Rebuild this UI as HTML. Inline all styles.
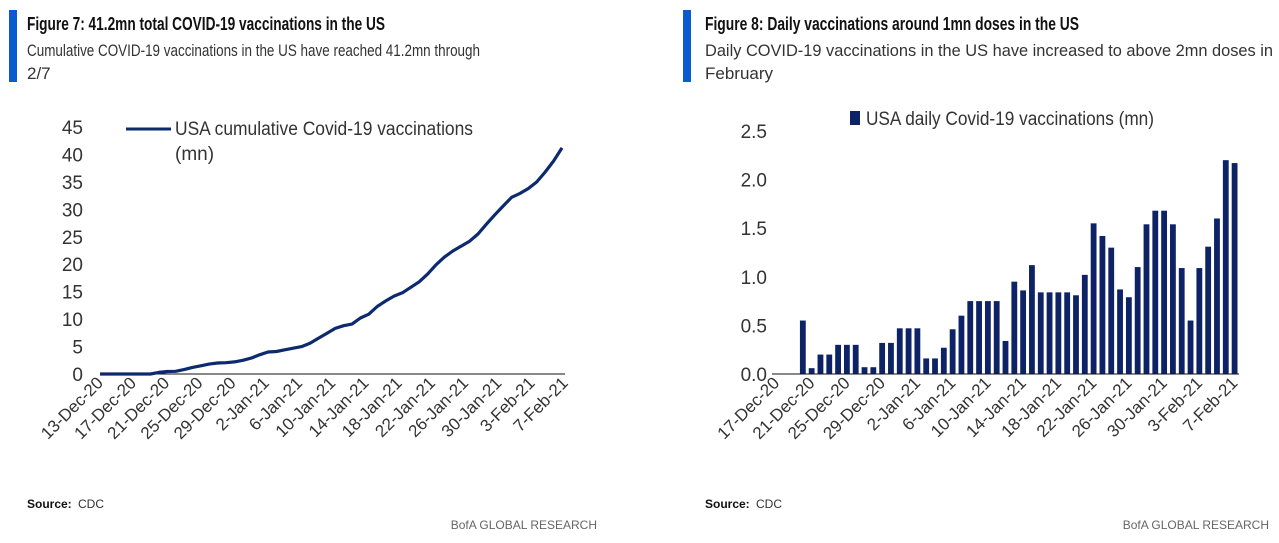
<!DOCTYPE html>
<html><head><meta charset="utf-8"><style>
body{margin:0;background:#fff;}
svg{display:block;font-family:"Liberation Sans Narrow","Liberation Sans",sans-serif;}
</style></head><body>
<svg width="1279" height="543" viewBox="0 0 1279 543">
<g>
<rect x="9" y="10" width="8" height="72" fill="#0a5ad2"/>
<text x="27" y="30" font-size="18" font-weight="bold" fill="#111" textLength="358" lengthAdjust="spacingAndGlyphs">Figure 7: 41.2mn total COVID-19 vaccinations in the US</text>
<text x="27" y="56" font-size="17" fill="#333" textLength="453" lengthAdjust="spacingAndGlyphs">Cumulative COVID-19 vaccinations in the US have reached 41.2mn through</text>
<text x="27" y="79" font-size="17" fill="#333">2/7</text>
<g id="leftChart"></g>
<text x="27" y="508" font-size="12" font-weight="bold" fill="#111">Source:</text>
<text x="78" y="508" font-size="12" fill="#333">CDC</text>
<text x="597" y="529" font-size="12" fill="#666" text-anchor="end">BofA GLOBAL RESEARCH</text>
</g>
<g>
<rect x="683" y="10" width="8" height="72" fill="#0a5ad2"/>
<text x="705" y="30" font-size="18" font-weight="bold" fill="#111" textLength="374" lengthAdjust="spacingAndGlyphs">Figure 8: Daily vaccinations around 1mn doses in the US</text>
<text x="705" y="56" font-size="17" fill="#333" textLength="568" lengthAdjust="spacingAndGlyphs">Daily COVID-19 vaccinations in the US have increased to above 2mn doses in</text>
<text x="705" y="79" font-size="17" fill="#333">February</text>
<g id="rightChart"></g>
<text x="705" y="508" font-size="12" font-weight="bold" fill="#111">Source:</text>
<text x="756" y="508" font-size="12" fill="#333">CDC</text>
<text x="1269" y="529" font-size="12" fill="#666" text-anchor="end">BofA GLOBAL RESEARCH</text>
</g>
</svg>
<script>
const NS="http://www.w3.org/2000/svg";
const cumValues=[0,0,0,0,0,0,0,0.3,0.45,0.5,0.8,1.2,1.5,1.8,2.0,2.05,2.2,2.5,2.9,3.5,4.0,4.1,4.4,4.7,5.0,5.6,6.5,7.4,8.3,8.8,9.1,10.2,10.9,12.3,13.3,14.2,14.8,15.8,16.8,18.2,19.9,21.3,22.4,23.3,24.2,25.5,27.3,29.0,30.6,32.2,32.9,33.8,35.0,36.8,38.8,41.2];
const leftTickLabels=["13-Dec-20","17-Dec-20","21-Dec-20","25-Dec-20","29-Dec-20","2-Jan-21","6-Jan-21","10-Jan-21","14-Jan-21","18-Jan-21","22-Jan-21","26-Jan-21","30-Jan-21","3-Feb-21","7-Feb-21"];
const leftYTicks=[0,5,10,15,20,25,30,35,40,45];
const dailyValues=[0,0,0,0.55,0.06,0.2,0.2,0.3,0.3,0.3,0.07,0.07,0.32,0.32,0.47,0.47,0.47,0.16,0.16,0.27,0.46,0.6,0.75,0.75,0.75,0.75,0.34,0.95,0.86,1.12,0.84,0.84,0.84,0.84,0.81,1.02,1.55,1.42,1.3,0.87,0.79,1.1,1.54,1.68,1.68,1.54,1.09,0.55,1.09,1.31,1.6,2.2,2.17];
const rightTickLabels=["17-Dec-20","21-Dec-20","25-Dec-20","29-Dec-20","2-Jan-21","6-Jan-21","10-Jan-21","14-Jan-21","18-Jan-21","22-Jan-21","26-Jan-21","30-Jan-21","3-Feb-21","7-Feb-21"];
const rightYTicks=["0.0","0.5","1.0","1.5","2.0","2.5"];

function mk(tag,attrs,parent,txt){const e=document.createElementNS(NS,tag);for(const k in attrs)e.setAttribute(k,attrs[k]);if(txt!==undefined)e.textContent=txt;parent.appendChild(e);return e;}

// Left chart
const L=document.getElementById('leftChart');
const lx0=100,lx1=565,ly0=374,ly45=127;
const lxs=d=>lx0+d*(562-lx0)/55;
const lys=v=>ly0-v*(ly0-ly45)/45;
leftYTicks.forEach(v=>{const t=mk('text',{x:83,y:lys(v)+7,'font-size':19,fill:'#333','text-anchor':'end'},L,String(v));

});
const la=mk('line',{x1:lx0,y1:ly0,x2:lx1,y2:ly0,stroke:'#111','stroke-width':1},L);


leftTickLabels.forEach((s,i)=>{const x=lx0+i*4*(lx1-lx0)/56+4,y=ly0+10;
const t=mk('text',{x:x,y:y,'font-size':17,fill:'#333','text-anchor':'end',transform:`rotate(-45 ${x} ${y})`},L,s);

});
const pts=cumValues.map((v,i)=>lxs(i).toFixed(1)+','+lys(v).toFixed(1)).join(' ');
const pl=mk('polyline',{points:pts,fill:'none',stroke:'#0d2a6e','stroke-width':3.2,'stroke-linejoin':'round'},L);


const lk=mk('line',{x1:126,y1:129,x2:171,y2:129,stroke:'#0d2a6e','stroke-width':3},L);


const lt=mk('text',{x:175,y:135,'font-size':19,fill:'#333',textLength:298,lengthAdjust:'spacingAndGlyphs'},L,'USA cumulative Covid-19 vaccinations');


const lt2=mk('text',{x:175,y:160,'font-size':19,fill:'#333'},L,'(mn)');



// Right chart
const R=document.getElementById('rightChart');
const rx0=772,rx1=1239,ry0=374,ry25=131;
const slot=(rx1-rx0)/dailyValues.length;
const rys=v=>ry0-v*(ry0-ry25)/2.5;
rightYTicks.forEach(s=>{const t=mk('text',{x:767,y:rys(parseFloat(s))+7,'font-size':19,fill:'#333','text-anchor':'end'},R,s);

});
dailyValues.forEach((v,i)=>{if(v<=0)return;const b=mk('rect',{x:rx0+i*slot+1.5,y:rys(v),width:slot-3,height:ry0-rys(v),fill:'#0d2366'},R);

});
const ra=mk('line',{x1:rx0,y1:ry0,x2:rx1,y2:ry0,stroke:'#111','stroke-width':1},R);


rightTickLabels.forEach((s,i)=>{const x=rx0+(i*4+0.5)*slot+4,y=ry0+10;
const t=mk('text',{x:x,y:y,'font-size':17,fill:'#333','text-anchor':'end',transform:`rotate(-45 ${x} ${y})`},R,s);

});
const rk=mk('rect',{x:850,y:111,width:10,height:14,fill:'#0d2366'},R);


const rt=mk('text',{x:866,y:125,'font-size':19,fill:'#333',textLength:288,lengthAdjust:'spacingAndGlyphs'},R,'USA daily Covid-19 vaccinations (mn)');


</script>
</body></html>
